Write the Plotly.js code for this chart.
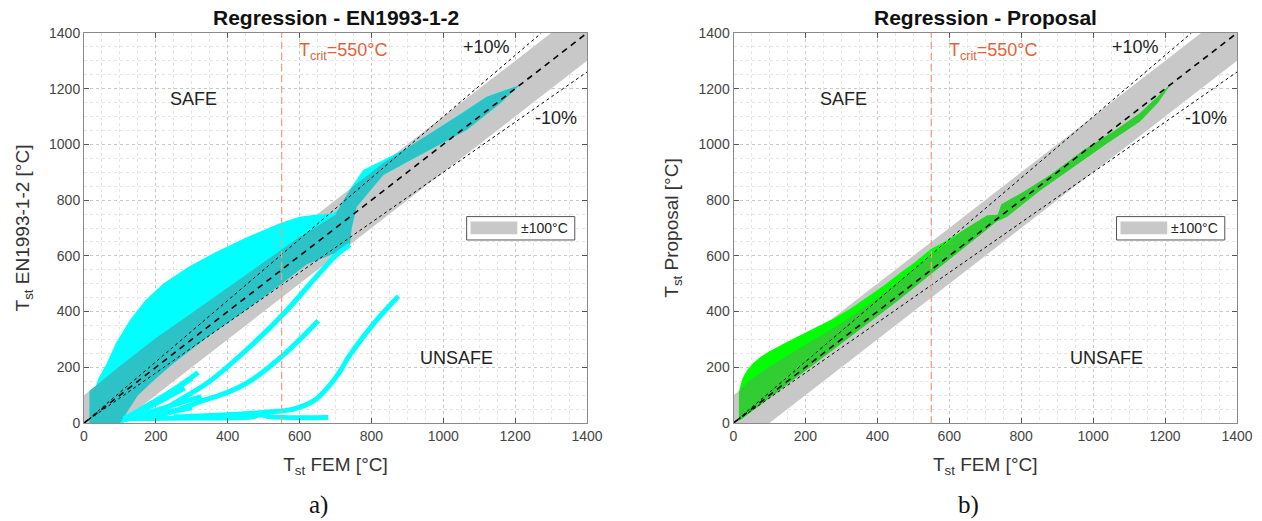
<!DOCTYPE html>
<html>
<head>
<meta charset="utf-8">
<script src="https://cdn.plot.ly/plotly-3.0.1.min.js"></script>
<style>html,body{margin:0;padding:0;background:#fff;}#chart{width:1262px;height:521px;}</style>
</head>
<body>
<div id="chart"></div>
<script>
// ---------- data ----------
const tickVals = [0, 200, 400, 600, 800, 1000, 1200, 1400];
const tCrit = 550;
const bandHalfWidth = 100;
const diagX = [0, 1400];
const diagY = [0, 1400];
const plus10X = [0, 1273];
const plus10Y = [0, 1400];
const minus10X = [0, 1400];
const minus10Y = [0, 1260];

// (a) EN1993-1-2 : whole cloud outline (bright cyan)
const cloudA_x = [15, 18, 26, 40, 63, 90, 128, 170, 221, 290, 360, 450, 545, 600, 638, 694, 710, 722, 745, 777, 833, 898, 972, 1050, 1121, 1213,
                  1158, 1065, 926, 833, 759, 745, 740, 720, 680, 620, 550, 450, 350, 250, 200, 150, 120, 110];
const cloudA_y = [0, 50, 107, 160, 214, 290, 370, 440, 501, 560, 609, 665, 717, 740, 747, 753, 770, 800, 848, 908, 944, 986, 1046, 1110, 1171, 1213,
                  1147, 1052, 956, 890, 776, 700, 650, 620, 600, 570, 500, 405, 315, 215, 160, 100, 40, 0];
// (a) inner darker part of the cloud
const coreA_x = [15, 15, 100, 200, 300, 400, 500, 600, 660, 700, 722, 745, 777, 833, 898, 972, 1050, 1121, 1213,
                 1158, 1065, 926, 833, 759, 745, 740, 700, 620, 550, 450, 350, 250, 200, 150, 120, 100];
const coreA_y = [0, 115, 205, 305, 395, 485, 575, 668, 715, 748, 800, 845, 877, 933, 986, 1046, 1110, 1171, 1213,
                 1147, 1052, 956, 890, 776, 700, 642, 610, 570, 500, 405, 315, 215, 160, 100, 40, 0];
// (a) streaks below the band
const streakFlat_x = [110, 300, 470, 490, 520, 680];
const streakFlat_y = [15, 18, 22, 30, 22, 20];
const streakB_x = [250, 400, 500, 583, 640, 680, 715, 731, 750, 815, 875];
const streakB_y = [22, 30, 38, 50, 80, 130, 190, 226, 262, 370, 455];
const streakC_x = [200, 278, 330, 400, 462, 560, 652];
const streakC_y = [22, 55, 80, 110, 150, 250, 367];
const streakD_x = [130, 213, 250, 350, 462, 557, 650, 700, 740];
const streakD_y = [20, 41, 70, 150, 274, 394, 530, 600, 640];
const streakE_x = [120, 186, 250, 318];
const streakE_y = [20, 70, 120, 181];
const streakF_x = [120, 200, 260, 327];
const streakF_y = [18, 45, 70, 95];
const streakG_x = [115, 180, 240, 300];
const streakG_y = [15, 60, 110, 160];
const streakH_x = [110, 170, 230, 280];
const streakH_y = [15, 50, 90, 125];
const streakI_x = [110, 200, 260, 300];
const streakI_y = [12, 30, 45, 55];

// (b) Proposal : whole cloud outline (bright green)
const cloudB_x = [15, 15, 16, 25, 38, 55, 76, 100, 122, 150, 187, 230, 280, 330, 372, 420, 465, 505, 549, 600, 640, 680, 705, 735, 745, 807, 881, 974, 1057, 1130, 1180, 1214,
                  1180, 1130, 1039, 946, 854, 761, 730, 700, 668, 600, 550, 450, 350, 250, 150, 100, 50, 20];
const cloudB_y = [11, 60, 118, 160, 190, 215, 238, 258, 274, 292, 316, 345, 376, 415, 453, 495, 540, 578, 625, 660, 693, 725, 745, 748, 785, 830, 890, 980, 1046, 1112, 1170, 1213,
                  1150, 1082, 1004, 920, 836, 741, 722, 690, 657, 590, 535, 433, 335, 237, 140, 90, 42, 12];
// (b) inner darker part of the cloud
const coreB_x = [15, 15, 40, 100, 200, 300, 400, 480, 549, 600, 640, 680, 705, 735, 745, 807, 881, 974, 1057, 1130, 1180, 1214,
                 1180, 1130, 1039, 946, 854, 761, 730, 700, 668, 600, 550, 450, 350, 250, 150, 100, 50, 20];
const coreB_y = [11, 112, 148, 202, 282, 358, 448, 528, 603, 650, 693, 725, 745, 748, 785, 830, 890, 980, 1046, 1112, 1170, 1213,
                 1150, 1082, 1004, 920, 836, 741, 722, 690, 657, 590, 535, 433, 335, 237, 140, 90, 42, 12];

// legend box (axis units)
const legBoxX = [1065, 1366];
const legBoxY = [657, 741];
const legSwatchX = [1076, 1206];
const legSwatchY = [678, 723];

// ---------- helpers ----------
const FONT = 'Liberation Sans, Arial, sans-serif';
const bandX = [0, 1400, 1400, 0];
const bandY = [-bandHalfWidth, 1400 - bandHalfWidth, 1400 + bandHalfWidth, bandHalfWidth];
const BAND_GRAY = 'rgb(200,200,200)';

function poly(x, y, xa, ya, color) {
  return {x: x, y: y, xaxis: xa, yaxis: ya, mode: 'lines', fill: 'toself', fillcolor: color,
          line: {width: 0}, hoverinfo: 'skip', showlegend: false};
}
function streak(x, y, xa, ya) {
  return {x: x, y: y, xaxis: xa, yaxis: ya, mode: 'lines', type: 'scatter',
          line: {color: '#00ffff', width: 5, shape: 'spline'}, hoverinfo: 'skip', showlegend: false};
}
function refLines(xa, ya) {
  return [
    {x: plus10X, y: plus10Y, xaxis: xa, yaxis: ya, mode: 'lines', line: {color: '#000', width: 1, dash: 'dot'}, showlegend: false, hoverinfo: 'skip'},
    {x: minus10X, y: minus10Y, xaxis: xa, yaxis: ya, mode: 'lines', line: {color: '#000', width: 1, dash: 'dot'}, showlegend: false, hoverinfo: 'skip'},
    {x: diagX, y: diagY, xaxis: xa, yaxis: ya, mode: 'lines', line: {color: '#000', width: 1.6, dash: '6px,5px'}, showlegend: false, hoverinfo: 'skip'},
    {x: [tCrit, tCrit], y: [0, 1400], xaxis: xa, yaxis: ya, mode: 'lines', line: {color: 'rgb(240,160,135)', width: 1.3, dash: '7px,4px'}, showlegend: false, hoverinfo: 'skip'}
  ];
}

const traces = [
  poly(bandX, bandY, 'x', 'y', BAND_GRAY),
  poly(cloudA_x, cloudA_y, 'x', 'y', '#00ffff'),
  poly(coreA_x, coreA_y, 'x', 'y', 'rgb(45,195,198)'),
  streak(streakFlat_x, streakFlat_y, 'x', 'y'),
  streak(streakB_x, streakB_y, 'x', 'y'),
  streak(streakC_x, streakC_y, 'x', 'y'),
  streak(streakD_x, streakD_y, 'x', 'y'),
  streak(streakE_x, streakE_y, 'x', 'y'),
  streak(streakF_x, streakF_y, 'x', 'y'),
  streak(streakG_x, streakG_y, 'x', 'y'),
  streak(streakH_x, streakH_y, 'x', 'y'),
  streak(streakI_x, streakI_y, 'x', 'y'),
  ...refLines('x', 'y'),
  poly(bandX, bandY, 'x2', 'y2', BAND_GRAY),
  poly(cloudB_x, cloudB_y, 'x2', 'y2', '#00ff00'),
  poly(coreB_x, coreB_y, 'x2', 'y2', 'rgb(50,205,50)'),
  ...refLines('x2', 'y2')
];

function axis(domain, anchor, titleText, standoff) {
  return {
    domain: domain, anchor: anchor, range: [0, 1400], tickvals: tickVals,
    ticks: 'inside', ticklen: 5, tickcolor: '#555', mirror: 'ticks',
    showline: true, linecolor: '#8a8a8a', linewidth: 1, zeroline: false,
    showgrid: true, gridcolor: 'rgba(0,0,0,0.13)', griddash: 'dot', gridwidth: 1,
    minor: {dtick: 50, showgrid: true, gridcolor: 'rgba(0,0,0,0.10)', griddash: 'dot', ticks: ''},
    tickfont: {family: FONT, size: 14, color: '#444'},
    title: {text: titleText, font: {family: FONT, size: 19, color: '#333'}, standoff: standoff}
  };
}

const xDomA = [0, 503 / 1153];
const xDomB = [(733.5 - 84) / 1153, 1];

function legendShapes(xr, yr) {
  return [
    {type: 'rect', xref: xr, yref: yr, x0: legBoxX[0], x1: legBoxX[1], y0: legBoxY[0], y1: legBoxY[1],
     fillcolor: '#fff', line: {color: '#555', width: 1}, layer: 'above'},
    {type: 'rect', xref: xr, yref: yr, x0: legSwatchX[0], x1: legSwatchX[1], y0: legSwatchY[0], y1: legSwatchY[1],
     fillcolor: BAND_GRAY, line: {width: 0}, layer: 'above'}
  ];
}

function textAnns(xr, yr) {
  const f = (c) => ({family: FONT, size: 18, color: c});
  return [
    {xref: xr, yref: yr, x: 593, y: 1332, xanchor: 'left', yanchor: 'middle', text: 'T<sub>crit</sub>=550°C', showarrow: false, font: f('#e0643a')},
    {xref: xr, yref: yr, x: 1119, y: 1350, xanchor: 'center', text: '+10%', showarrow: false, font: f('#222')},
    {xref: xr, yref: yr, x: 1314, y: 1095, xanchor: 'center', text: '-10%', showarrow: false, font: f('#222')},
    {xref: xr, yref: yr, x: 306, y: 1163, xanchor: 'center', text: 'SAFE', showarrow: false, font: f('#222')},
    {xref: xr, yref: yr, x: 1038, y: 233, xanchor: 'center', text: 'UNSAFE', showarrow: false, font: f('#222')},
    {xref: xr, yref: yr, x: 1211, y: 699, xanchor: 'left', text: '±100°C', showarrow: false, font: {family: FONT, size: 14, color: '#222'}}
  ];
}

const layout = {
  width: 1262, height: 521,
  margin: {l: 84, r: 25, t: 33, b: 98},
  paper_bgcolor: '#fff', plot_bgcolor: '#fff',
  showlegend: false,
  xaxis: axis(xDomA, 'y', 'T<sub>st</sub> FEM [°C]', 14),
  yaxis: axis([0, 1], 'x', 'T<sub>st</sub> EN1993-1-2 [°C]', 14),
  xaxis2: axis(xDomB, 'y2', 'T<sub>st</sub> FEM [°C]', 14),
  yaxis2: axis([0, 1], 'x2', 'T<sub>st</sub> Proposal [°C]', 14),
  shapes: [...legendShapes('x', 'y'), ...legendShapes('x2', 'y2')],
  annotations: [
    {xref: 'paper', yref: 'paper', x: (xDomA[0] + xDomA[1]) / 2, y: 1.0385, xanchor: 'center', yanchor: 'middle', showarrow: false,
     text: '<b>Regression - EN1993-1-2</b>', font: {family: FONT, size: 21, color: '#111'}},
    {xref: 'paper', yref: 'paper', x: (xDomB[0] + xDomB[1]) / 2, y: 1.0385, xanchor: 'center', yanchor: 'middle', showarrow: false,
     text: '<b>Regression - Proposal</b>', font: {family: FONT, size: 21, color: '#111'}},
    {xref: 'paper', yref: 'paper', x: (318 - 84) / 1153, y: -0.21, xanchor: 'center', yanchor: 'middle', showarrow: false,
     text: 'a)', font: {family: 'Liberation Serif, Times New Roman, serif', size: 25, color: '#111'}},
    {xref: 'paper', yref: 'paper', x: (968 - 84) / 1153, y: -0.21, xanchor: 'center', yanchor: 'middle', showarrow: false,
     text: 'b)', font: {family: 'Liberation Serif, Times New Roman, serif', size: 25, color: '#111'}},
    ...textAnns('x', 'y'),
    ...textAnns('x2', 'y2')
  ]
};

Plotly.newPlot('chart', traces, layout, {staticPlot: true, displayModeBar: false});
</script>
</body>
</html>
